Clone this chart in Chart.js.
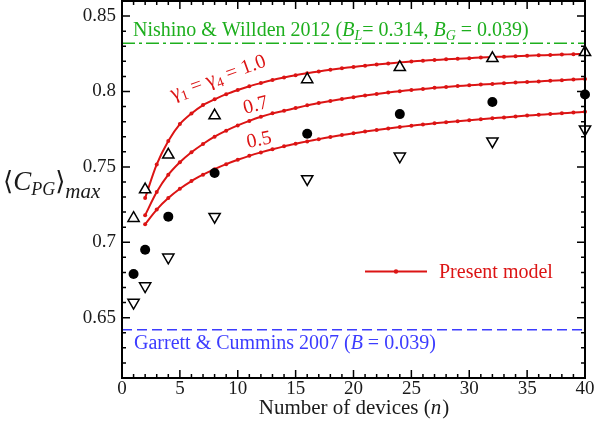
<!DOCTYPE html>
<html>
<head>
<meta charset="utf-8">
<title>Power coefficient vs number of devices</title>
<script src="https://cdn.jsdelivr.net/npm/chart.js@4.4.0/dist/chart.umd.min.js"></script>
<style>
  html, body { margin: 0; padding: 0; background: #fff; }
  #wrap { width: 594px; height: 433px; position: relative; }
</style>
</head>
<body>
<div id="wrap"><canvas id="cpgChart" width="594" height="433"></canvas></div>
<script>
// --- Data ---
const nModel = [2, 3, 4, 5, 6, 7, 8, 9, 10, 11, 12, 13, 14, 15, 16, 17, 18, 19, 20, 21,
                22, 23, 24, 25, 26, 27, 28, 29, 30, 31, 32, 33, 34, 35, 36, 37, 38, 39, 40];

// present model, gamma1 = gamma4 = 1.0 / 0.7 / 0.5
const model10 = [0.7294, 0.7516, 0.7672, 0.7784, 0.7854, 0.7910, 0.7948, 0.7982, 0.8010, 0.8035,
                 0.8056, 0.8076, 0.8093, 0.8108, 0.8121, 0.8133, 0.8144, 0.8154, 0.8163, 0.8171,
                 0.8179, 0.8186, 0.8193, 0.8199, 0.8204, 0.8209, 0.8213, 0.8217, 0.8221, 0.8225,
                 0.8228, 0.8231, 0.8234, 0.8237, 0.8240, 0.8242, 0.8245, 0.8247, 0.8249];
const model07 = [0.7180, 0.7333, 0.7448, 0.7531, 0.7597, 0.7652, 0.7700, 0.7740, 0.7775, 0.7805,
                 0.7832, 0.7855, 0.7872, 0.7890, 0.7908, 0.7923, 0.7937, 0.7950, 0.7962, 0.7973,
                 0.7983, 0.7993, 0.8002, 0.8010, 0.8017, 0.8024, 0.8030, 0.8036, 0.8041, 0.8046,
                 0.8050, 0.8055, 0.8059, 0.8063, 0.8067, 0.8071, 0.8075, 0.8079, 0.8083];
const model05 = [0.7120, 0.7217, 0.7293, 0.7355, 0.7406, 0.7448, 0.7485, 0.7518, 0.7547, 0.7573,
                 0.7596, 0.7617, 0.7636, 0.7653, 0.7669, 0.7684, 0.7698, 0.7711, 0.7723, 0.7734,
                 0.7745, 0.7755, 0.7764, 0.7773, 0.7781, 0.7789, 0.7796, 0.7803, 0.7810, 0.7816,
                 0.7822, 0.7828, 0.7834, 0.7840, 0.7845, 0.7850, 0.7855, 0.7860, 0.7865];

// reference points at n = 1, 2, 4, 8, 16, 24, 32, 40
const nRef = [1, 2, 4, 8, 16, 24, 32, 40];
const refUpper = [0.716, 0.735, 0.758, 0.784, 0.808, 0.816, 0.822, 0.826];
const refMid   = [0.679, 0.695, 0.717, 0.746, 0.772, 0.785, 0.793, 0.798];
const refLower = [0.660, 0.671, 0.690, 0.717, 0.742, 0.757, 0.767, 0.775];

// limits
const nishinoLimit = 0.832;
const garrettLimit = 0.642;
const limitX = [0, 40];

// axes
const xTicks = [0, 5, 10, 15, 20, 25, 30, 35, 40];
const xTickLabels = ['0', '5', '10', '15', '20', '25', '30', '35', '40'];
const yTicks = [0.65, 0.7, 0.75, 0.8, 0.85];
const yTickLabels = ['0.65', '0.7', '0.75', '0.8', '0.85'];

const RED = 'rgb(220, 20, 20)';
const GREEN = 'rgb(30, 175, 30)';
const BLUE = 'rgb(60, 60, 255)';
const INK = '#1a1a1a';
const SERIF = '"Liberation Serif", "DejaVu Serif", serif';

const pts = (xs, ys) => xs.map((v, i) => ({ x: v, y: ys[i] }));

// draw a run of text pieces (normal / italic / sub) left to right
function drawRuns(ctx, x, y, runs, color) {
    ctx.fillStyle = color;
    ctx.textBaseline = 'alphabetic';
    ctx.textAlign = 'left';
    let cx = x;
    runs.forEach(r => {
        ctx.font = (r.italic ? 'italic ' : '') + r.size + 'px ' + SERIF;
        ctx.fillText(r.t, cx, y + (r.dy || 0));
        cx += ctx.measureText(r.t).width + (r.gap || 0);
    });
    return cx;
}

// --- Frame, ticks and text ---
const decorations = {
    id: 'decorations',
    afterDatasetsDraw(chart) {
        const { ctx, chartArea: a, scales: { x, y } } = chart;
        ctx.save();

        // inward ticks on all four sides
        ctx.strokeStyle = '#000';
        ctx.lineWidth = 1.5;
        ctx.beginPath();
        for (let v = 0; v <= 40; v++) {
            const px = x.getPixelForValue(v);
            const len = v % 5 === 0 ? 8 : 4;
            ctx.moveTo(px, a.bottom); ctx.lineTo(px, a.bottom - len);
            ctx.moveTo(px, a.top); ctx.lineTo(px, a.top + len);
        }
        for (let i = 61; i <= 86; i++) {
            const py = y.getPixelForValue(i / 100);
            const len = i % 5 === 0 ? 8 : 4;
            ctx.moveTo(a.left, py); ctx.lineTo(a.left + len, py);
            ctx.moveTo(a.right, py); ctx.lineTo(a.right - len, py);
        }
        ctx.stroke();

        ctx.lineWidth = 2;
        ctx.strokeRect(a.left, a.top, a.right - a.left, a.bottom - a.top);

        // tick labels
        ctx.fillStyle = INK;
        ctx.font = '19px ' + SERIF;
        ctx.textAlign = 'center';
        ctx.textBaseline = 'top';
        xTicks.forEach((v, i) => ctx.fillText(xTickLabels[i], x.getPixelForValue(v), a.bottom + 2));
        ctx.textAlign = 'right';
        ctx.textBaseline = 'middle';
        yTicks.forEach((v, i) => ctx.fillText(yTickLabels[i], a.left - 6, y.getPixelForValue(v)));

        // axis titles
        ctx.font = '21px ' + SERIF;
        const t1 = 'Number of devices (', t2 = 'n', t3 = ')';
        const w1 = ctx.measureText(t1).width, w3 = ctx.measureText(t3).width;
        ctx.font = 'italic 21px ' + SERIF;
        const w2 = ctx.measureText(t2).width;
        const startX = (a.left + a.right) / 2 - (w1 + w2 + w3) / 2;
        drawRuns(ctx, startX, 414, [
            { t: t1, size: 21 }, { t: t2, size: 21, italic: true, gap: 1 }, { t: t3, size: 21 }
        ], INK);

        drawRuns(ctx, 3, 190, [
            { t: '\u27E8', size: 26 },
            { t: 'C', size: 27, italic: true },
            { t: 'PG', size: 18, italic: true, dy: 5 },
            { t: '\u27E9', size: 26 },
            { t: 'max', size: 21, italic: true, dy: 8 }
        ], INK);

        // limit annotations
        drawRuns(ctx, 133, 36, [
            { t: 'Nishino & Willden 2012 (', size: 20 },
            { t: 'B', size: 20, italic: true },
            { t: 'L', size: 14, italic: true, dy: 4 },
            { t: '= 0.314, ', size: 20 },
            { t: 'B', size: 20, italic: true },
            { t: 'G', size: 14, italic: true, dy: 4 },
            { t: ' = 0.039)', size: 20 }
        ], GREEN);
        drawRuns(ctx, 134, 349, [
            { t: 'Garrett & Cummins 2007 (', size: 20 },
            { t: 'B', size: 20, italic: true },
            { t: ' = 0.039)', size: 20 }
        ], BLUE);

        // curve labels
        const rotated = (px, py, deg, runs) => {
            ctx.save();
            ctx.translate(px, py);
            ctx.rotate(deg * Math.PI / 180);
            drawRuns(ctx, 0, 0, runs, RED);
            ctx.restore();
        };
        rotated(173, 100, -20, [
            { t: '\u03B3', size: 21 }, { t: '1', size: 14, dy: 4 },
            { t: ' = ', size: 20 },
            { t: '\u03B3', size: 21 }, { t: '4', size: 14, dy: 4 },
            { t: ' = 1.0', size: 20 }
        ]);
        rotated(245, 114, -15, [{ t: '0.7', size: 20 }]);
        rotated(248, 148, -12, [{ t: '0.5', size: 20 }]);

        // legend
        const ly = 271.5;
        ctx.strokeStyle = RED;
        ctx.lineWidth = 2;
        ctx.beginPath(); ctx.moveTo(365, ly); ctx.lineTo(427, ly); ctx.stroke();
        ctx.fillStyle = RED;
        ctx.beginPath(); ctx.arc(396, ly, 2.2, 0, Math.PI * 2); ctx.fill();
        drawRuns(ctx, 439, 278, [{ t: 'Present model', size: 20 }], RED);

        ctx.restore();
    }
};

const modelSet = (data) => ({
    data: pts(nModel, data),
    showLine: true,
    borderColor: RED,
    backgroundColor: RED,
    borderWidth: 2,
    pointRadius: 2,
    pointBorderWidth: 0,
    tension: 0.3,
    order: 2
});

const ctx = document.getElementById('cpgChart').getContext('2d');
new Chart(ctx, {
    type: 'scatter',
    data: {
        datasets: [
            {
                data: pts(limitX, [nishinoLimit, nishinoLimit]),
                showLine: true, borderColor: GREEN, borderWidth: 1.6,
                borderDash: [13, 4, 3, 4], pointRadius: 0, order: 3
            },
            {
                data: pts(limitX, [garrettLimit, garrettLimit]),
                showLine: true, borderColor: BLUE, borderWidth: 1.6,
                borderDash: [10, 5], pointRadius: 0, order: 3
            },
            modelSet(model10),
            modelSet(model07),
            modelSet(model05),
            {
                data: pts(nRef, refUpper),
                pointStyle: 'triangle', pointRadius: 6.5,
                backgroundColor: '#fff', borderColor: '#000', borderWidth: 1.5, order: 1
            },
            {
                data: pts(nRef, refMid),
                pointStyle: 'circle', pointRadius: 5,
                backgroundColor: '#000', borderColor: '#000', borderWidth: 0, order: 1
            },
            {
                data: pts(nRef, refLower),
                pointStyle: 'triangle', rotation: 180, pointRadius: 6.5,
                backgroundColor: '#fff', borderColor: '#000', borderWidth: 1.5, order: 1
            }
        ]
    },
    options: {
        responsive: false,
        animation: false,
        clip: false,
        layout: { autoPadding: false, padding: { left: 122, right: 9, top: 1, bottom: 55 } },
        plugins: { legend: { display: false }, tooltip: { enabled: false } },
        scales: {
            x: { type: 'linear', min: 0, max: 40, display: false },
            y: { type: 'linear', min: 0.61, max: 0.86, display: false }
        }
    },
    plugins: [decorations]
});
</script>
</body>
</html>
